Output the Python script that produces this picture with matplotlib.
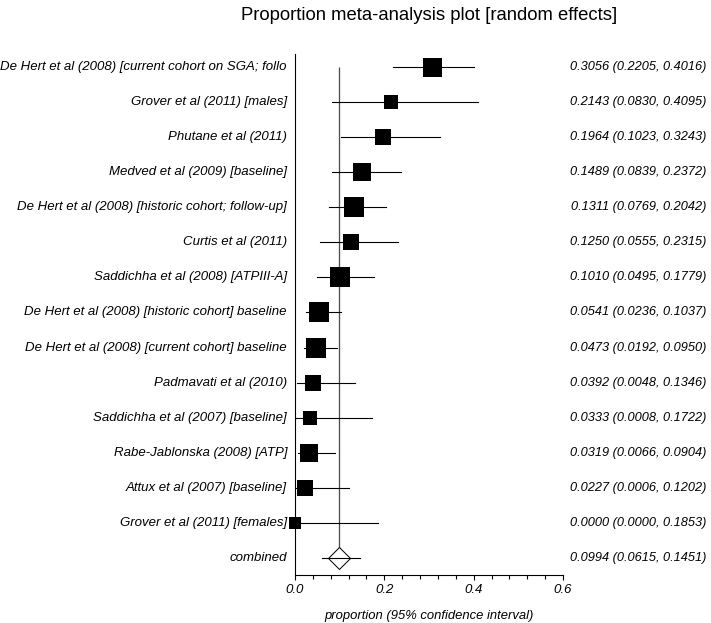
import numpy as np
import matplotlib
matplotlib.use("Agg")
import matplotlib.pyplot as plt

studies = [
    "De Hert et al (2008) [current cohort on SGA; follo",
    "Grover et al (2011) [males]",
    "Phutane et al (2011)",
    "Medved et al (2009) [baseline]",
    "De Hert et al (2008) [historic cohort; follow-up]",
    "Curtis et al (2011)",
    "Saddichha et al (2008) [ATPIII-A]",
    "De Hert et al (2008) [historic cohort] baseline",
    "De Hert et al (2008) [current cohort] baseline",
    "Padmavati et al (2010)",
    "Saddichha et al (2007) [baseline]",
    "Rabe-Jablonska (2008) [ATP]",
    "Attux et al (2007) [baseline]",
    "Grover et al (2011) [females]",
]
est = [0.3056, 0.2143, 0.1964, 0.1489, 0.1311, 0.1250, 0.1010,
       0.0541, 0.0473, 0.0392, 0.0333, 0.0319, 0.0227, 0.0000]
lo = [0.2205, 0.0830, 0.1023, 0.0839, 0.0769, 0.0555, 0.0495,
      0.0236, 0.0192, 0.0048, 0.0008, 0.0066, 0.0006, 0.0000]
hi = [0.4016, 0.4095, 0.3243, 0.2372, 0.2042, 0.2315, 0.1779,
      0.1037, 0.0950, 0.1346, 0.1722, 0.0904, 0.1202, 0.1853]
# relative box weights
box_weight = [19.0, 14.0, 16.7, 18.7, 19.3, 16.3, 19.3,
              19.3, 19.3, 16.7, 14.0, 18.0, 16.3, 12.3]

combined_label = "combined"
combined_est = 0.0994
combined_lo = 0.0615
combined_hi = 0.1451

title = "Proportion meta-analysis plot [random effects]"
xlabel = "proportion (95% confidence interval)"
xticks_major = [0.0, 0.2, 0.4, 0.6]
xtick_labels = ["0.0", "0.2", "0.4", "0.6"]

W, H = 711, 623
fig = plt.figure(figsize=(W / 100, H / 100), dpi=100)
plt.rcParams['font.family'] = ['Liberation Sans', 'DejaVu Sans']

ax = fig.add_axes([295 / W, 1 - 575 / H, (563 - 295) / W, (575 - 54) / H])
n = len(studies)
rows = np.arange(n)
px2pt = 72 / 100

# vertical line at combined estimate
ax.vlines(combined_est, 0, n, color="#4d4d4d", lw=1.3 * px2pt, zorder=1)

for i in range(n):
    ax.plot([lo[i], hi[i]], [rows[i], rows[i]], color="black", lw=1.1 * px2pt, zorder=2)
    ax.plot(est[i], rows[i], marker="s", color="black",
            markersize=box_weight[i] * px2pt, markeredgewidth=0, zorder=3,
            clip_on=False)

# combined diamond
ax.plot(combined_est, n, marker="D", markersize=22 * px2pt / np.sqrt(2),
        markerfacecolor="white", markeredgecolor="black",
        markeredgewidth=1.0 * px2pt, zorder=2)
ax.plot([combined_lo, combined_hi], [n, n], color="black", lw=1.1 * px2pt, zorder=3)

ax.set_xlim(0, 0.6)
ax.set_ylim(n + 17 / 35, -13 / 35)
for s in ["top", "right"]:
    ax.spines[s].set_visible(False)
ax.spines["left"].set_linewidth(1.1 * px2pt)
ax.spines["bottom"].set_linewidth(1.1 * px2pt)
ax.set_yticks([])
ax.set_xticks(xticks_major)
ax.set_xticklabels(xtick_labels, fontsize=9.5, style="italic")
ax.set_xticks(np.arange(0, 0.6001, 0.04), minor=True)
ax.tick_params(axis="x", which="major", length=5 * px2pt, width=1.1 * px2pt, pad=3)
ax.tick_params(axis="x", which="minor", length=3.5 * px2pt, width=1.1 * px2pt)

all_labels = studies + [combined_label]
all_vals = [f"{e:.4f} ({l:.4f}, {h:.4f})" for e, l, h in zip(est, lo, hi)]
all_vals.append(f"{combined_est:.4f} ({combined_lo:.4f}, {combined_hi:.4f})")
for i, (lab, val) in enumerate(zip(all_labels, all_vals)):
    ax.annotate(lab, xy=(0, i), xycoords=("axes fraction", "data"),
                xytext=(-8 * px2pt, 0), textcoords="offset points",
                ha="right", va="center", fontsize=9.5, style="italic")
    ax.annotate(val, xy=(706 / W, i), xycoords=("figure fraction", "data"),
                ha="right", va="center", fontsize=9.2, style="italic")

fig.text(429 / W, 1 - 15 / H, title, ha="center", va="center", fontsize=13.3)
fig.text(429 / W, 1 - 616 / H, xlabel, ha="center", va="center",
         fontsize=9.4, style="italic")

fig.savefig("out.png", dpi=100)
